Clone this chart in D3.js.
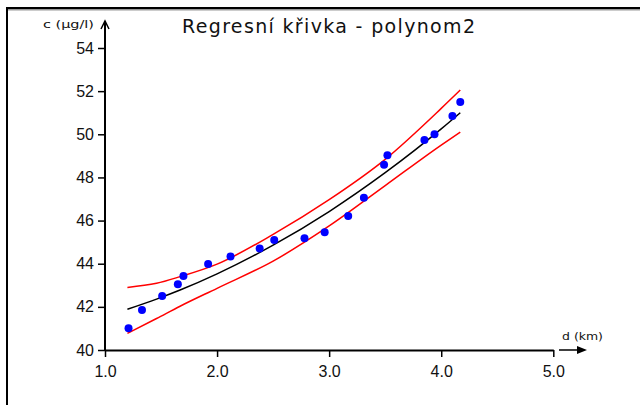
<!DOCTYPE html>
<html>
<head>
<meta charset="utf-8">
<title>Regresní křivka - polynom2</title>
<script src="https://cdn.jsdelivr.net/npm/d3@7"></script>
<style>
  body { margin: 0; background: #fff; }
  text { font-family: "Liberation Sans", Arial, sans-serif; fill: #111; }
</style>
</head>
<body>
<script>
// measured points: d (km) vs c (ug/l)
var pointX = [1.21, 1.33, 1.51, 1.65, 1.70, 1.92, 2.12, 2.38, 2.51, 2.78, 2.96, 3.17, 3.31, 3.49, 3.52, 3.85, 3.94, 4.10, 4.17];
var pointY = [41.01, 41.85, 42.50, 43.05, 43.43, 43.99, 44.33, 44.71, 45.10, 45.18, 45.46, 46.21, 47.06, 48.59, 49.03, 49.74, 50.00, 50.85, 51.50];

// regression curve and bands
var curveX = [1.2, 1.46, 1.67, 2.0, 2.5, 3.0, 3.5, 4.0, 4.17];
var fitY   = [41.89, 42.36, 42.78, 43.53, 44.86, 46.42, 48.22, 50.25, 51.0];
var upperY = [42.9, 43.09, 43.4, 43.98, 45.36, 46.97, 48.84, 51.2, 52.05];
var lowerY = [40.77, 41.46, 42.03, 42.86, 44.12, 45.75, 47.62, 49.5, 50.1];

var xTicks = [1, 2, 3, 4, 5];
var yTicks = [40, 42, 44, 46, 48, 50, 52, 54];

var W = 640, H = 405;

var svg = d3.select("body").append("svg")
  .attr("width", W)
  .attr("height", H);

// window frame
svg.append("rect").attr("x", 6).attr("y", 7).attr("width", W - 6).attr("height", 2).attr("fill", "#000");
svg.append("rect").attr("x", 8).attr("y", 9).attr("width", W - 8).attr("height", 1.5).attr("fill", "#999");
svg.append("rect").attr("x", 6).attr("y", 7).attr("width", 2).attr("height", H).attr("fill", "#000");

var x = d3.scaleLinear().domain([1, 5]).range([105, 553.3]);
var y = d3.scaleLinear().domain([40, 54]).range([350, 48]);

// title
svg.append("text")
  .attr("x", 182).attr("y", 33)
  .attr("textLength", 293).attr("lengthAdjust", "spacing")
  .style("font-family", "DejaVu Sans, sans-serif")
  .style("font-size", "19px")
  .text("Regresní křivka - polynom2");

// x axis
var xAxis = d3.axisBottom(x)
  .tickValues(xTicks)
  .tickSize(7)
  .tickSizeOuter(0)
  .tickFormat(d3.format(".1f"));

var gx = svg.append("g")
  .attr("transform", "translate(0," + y(40) + ")")
  .call(xAxis);
gx.select(".domain").attr("stroke-width", 2);
gx.selectAll(".tick line").attr("stroke-width", 1.5);
gx.selectAll(".tick text")
  .attr("y", 16)
  .style("font-size", "16px")
  .style("font-family", "Liberation Sans, Arial, sans-serif")
  .attr("fill", "#000");

// y axis
var yAxis = d3.axisLeft(y)
  .tickValues(yTicks)
  .tickSize(7)
  .tickSizeOuter(0);

var gy = svg.append("g")
  .attr("transform", "translate(" + x(1) + ",0)")
  .call(yAxis);
gy.select(".domain").remove();
gy.selectAll(".tick line").attr("stroke-width", 1.5);
gy.selectAll(".tick text")
  .attr("x", -11)
  .style("font-size", "16px")
  .style("font-family", "Liberation Sans, Arial, sans-serif")
  .attr("fill", "#000");

// y axis line with open arrow
svg.append("line")
  .attr("x1", x(1)).attr("x2", x(1))
  .attr("y1", y(40) + 1).attr("y2", 21)
  .attr("stroke", "#000").attr("stroke-width", 2);
svg.append("path")
  .attr("d", "M" + (x(1) - 4) + ",29 L" + x(1) + ",21 L" + (x(1) + 4) + ",29")
  .attr("fill", "none").attr("stroke", "#000").attr("stroke-width", 1.5);

// x axis arrow
svg.append("line")
  .attr("x1", 559).attr("x2", 580)
  .attr("y1", y(40)).attr("y2", y(40))
  .attr("stroke", "#000").attr("stroke-width", 1.5);
svg.append("path")
  .attr("d", "M577," + (y(40) - 4) + " L587," + y(40) + " L577," + (y(40) + 4) + " Z")
  .attr("fill", "#000");

// axis labels
svg.append("text")
  .attr("x", 43).attr("y", 28)
  .attr("textLength", 51).attr("lengthAdjust", "spacingAndGlyphs")
  .style("font-family", "DejaVu Sans, sans-serif")
  .style("font-size", "11px")
  .text("c (µg/l)");

svg.append("text")
  .attr("x", 562).attr("y", 340)
  .attr("textLength", 41).attr("lengthAdjust", "spacingAndGlyphs")
  .style("font-family", "DejaVu Sans, sans-serif")
  .style("font-size", "11px")
  .text("d (km)");

// curves
function curveLine(vals) {
  return d3.line()
    .x(function (d, i) { return x(curveX[i]); })
    .y(function (d) { return y(d); })
    .curve(d3.curveMonotoneX)(vals);
}

svg.append("path").attr("d", curveLine(upperY))
  .attr("fill", "none").attr("stroke", "#ff0000").attr("stroke-width", 1.5);
svg.append("path").attr("d", curveLine(lowerY))
  .attr("fill", "none").attr("stroke", "#ff0000").attr("stroke-width", 1.5);
svg.append("path").attr("d", curveLine(fitY))
  .attr("fill", "none").attr("stroke", "#000").attr("stroke-width", 1.5);

// points
svg.selectAll(".pt")
  .data(pointX)
  .enter().append("circle")
  .attr("class", "pt")
  .attr("cx", function (d) { return x(d); })
  .attr("cy", function (d, i) { return y(pointY[i]); })
  .attr("r", 4)
  .attr("fill", "#0000ff");
</script>
</body>
</html>
